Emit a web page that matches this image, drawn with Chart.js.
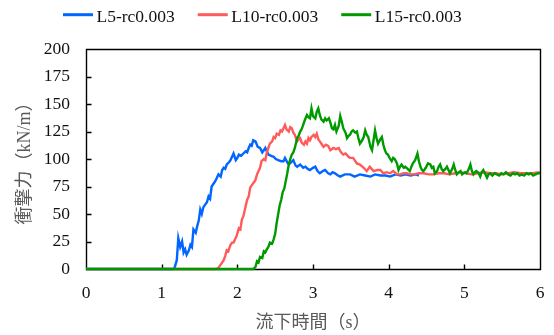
<!DOCTYPE html>
<html>
<head>
<meta charset="utf-8">
<title>衝撃力の時間変化</title>
<script src="https://cdn.jsdelivr.net/npm/chart.js@4/dist/chart.umd.min.js"></script>
<style>
  html, body { margin: 0; padding: 0; background: #ffffff; }
  #wrap { width: 554px; height: 335px; }
</style>
</head>
<body>
<div id="wrap"><canvas id="chart" width="554" height="335"></canvas></div>
<script>
// ---- series data: time (s) and impact force (kN/m) ----
const seriesLabels = ['L5-rc0.003', 'L10-rc0.003', 'L15-rc0.003'];

const l5Time = [
  0, 1.15, 1.17, 1.20, 1.22, 1.245, 1.27, 1.29, 1.31, 1.33,
  1.36, 1.38, 1.40, 1.42, 1.45, 1.47, 1.49, 1.51, 1.53, 1.55,
  1.58, 1.60, 1.62, 1.64, 1.66, 1.69, 1.71, 1.73, 1.75, 1.78,
  1.80, 1.82, 1.84, 1.86, 1.89, 1.91, 1.93, 1.95, 1.98, 2.00,
  2.02, 2.05, 2.08, 2.11, 2.13, 2.15, 2.17, 2.19, 2.21, 2.24,
  2.27, 2.30, 2.33, 2.37, 2.41, 2.44, 2.48, 2.51, 2.54, 2.58,
  2.61, 2.63, 2.66, 2.68, 2.71, 2.74, 2.77, 2.79, 2.83, 2.87,
  2.90, 2.93, 2.96, 3.00, 3.03, 3.06, 3.09, 3.13, 3.16, 3.20,
  3.23, 3.26, 3.29, 3.33, 3.36, 3.42, 3.49, 3.55, 3.62, 3.69,
  3.76, 3.82, 3.89, 3.96, 4.02, 4.09, 4.16, 4.22, 4.29, 4.36,
  4.40
];
const l5Force = [
  0, 0, 1, 8, 28, 20, 25, 15, 18, 13,
  17, 22, 20, 36, 33, 39, 44, 54, 50, 56,
  59, 61, 66, 64, 75, 78, 80, 83, 86, 84,
  90, 92, 91, 95, 97, 99, 102, 105, 99, 101,
  104, 103, 105, 107, 106, 110, 113, 112, 117, 116,
  111, 110, 106, 110, 104, 103, 102, 100, 99, 98,
  98, 101, 97, 95, 97, 99, 94, 93, 95, 92,
  93, 91, 90, 92, 93, 89, 87, 89, 90, 87,
  86, 88, 87, 85, 84, 86, 86, 84, 86, 85,
  84, 86, 85, 85, 84, 86, 85, 86, 85, 86,
  85
];

const l10Time = [
  0, 1.72, 1.75, 1.78, 1.82, 1.84, 1.86, 1.88, 1.91, 1.93,
  1.95, 1.97, 1.99, 2.02, 2.04, 2.06, 2.08, 2.10, 2.13, 2.15,
  2.17, 2.19, 2.21, 2.24, 2.26, 2.28, 2.30, 2.32, 2.35, 2.37,
  2.39, 2.41, 2.43, 2.46, 2.48, 2.50, 2.52, 2.55, 2.57, 2.59,
  2.61, 2.63, 2.65, 2.68, 2.70, 2.72, 2.74, 2.76, 2.79, 2.81,
  2.83, 2.85, 2.88, 2.90, 2.92, 2.94, 2.96, 2.98, 3.01, 3.03,
  3.05, 3.07, 3.09, 3.12, 3.14, 3.17, 3.20, 3.23, 3.27, 3.30,
  3.34, 3.37, 3.40, 3.43, 3.47, 3.49, 3.53, 3.58, 3.62, 3.67,
  3.71, 3.75, 3.80, 3.85, 3.89, 3.93, 3.97, 4.02, 4.06, 4.11,
  4.15, 4.20, 4.24, 4.29, 4.33, 4.40, 4.46, 4.53, 4.59, 4.66,
  4.73, 4.80, 4.88, 4.95, 5.02, 5.10, 5.18, 5.26, 5.34, 5.42,
  5.50, 5.58, 5.66, 5.74, 5.82, 5.90, 6.00
];
const l10Force = [
  0, 0, 1, 4, 8, 12, 17, 16, 22, 24,
  24, 27, 30, 37, 36, 45, 48, 54, 63, 66,
  74, 76, 78, 81, 86, 89, 92, 98, 100, 99,
  106, 110, 114, 116, 120, 119, 123, 122, 126, 125,
  128, 131, 127, 125, 129, 128, 124, 122, 116, 118,
  119, 115, 113, 116, 114, 119, 117, 120, 122, 120,
  123, 118, 116, 113, 111, 113, 112, 108, 110, 109,
  110, 106, 104, 105, 102, 101, 101, 96, 95, 92,
  89, 93, 89, 90, 90, 87, 88, 87, 89, 86,
  86, 87, 87, 86, 86, 87, 87, 86, 86, 87,
  87, 86, 87, 88, 87, 86, 87, 88, 87, 87,
  86, 87, 88, 87, 87, 87, 88
];

const l15Time = [
  0, 2.21, 2.24, 2.26, 2.28, 2.30, 2.33, 2.35, 2.37, 2.39,
  2.41, 2.43, 2.46, 2.48, 2.50, 2.52, 2.54, 2.56, 2.58, 2.60,
  2.62, 2.64, 2.66, 2.68, 2.70, 2.72, 2.74, 2.76, 2.78, 2.79,
  2.81, 2.83, 2.85, 2.87, 2.89, 2.92, 2.94, 2.96, 2.98, 3.00,
  3.03, 3.05, 3.07, 3.09, 3.11, 3.14, 3.16, 3.18, 3.21, 3.23,
  3.25, 3.27, 3.29, 3.31, 3.34, 3.36, 3.38, 3.40, 3.43, 3.45,
  3.47, 3.49, 3.51, 3.53, 3.56, 3.58, 3.60, 3.62, 3.65, 3.67,
  3.69, 3.71, 3.73, 3.76, 3.78, 3.80, 3.82, 3.84, 3.86, 3.89,
  3.91, 3.93, 3.95, 3.97, 3.99, 4.02, 4.04, 4.06, 4.08, 4.11,
  4.13, 4.15, 4.17, 4.20, 4.22, 4.25, 4.28, 4.30, 4.32, 4.35,
  4.38, 4.40, 4.42, 4.44, 4.46, 4.49, 4.52, 4.55, 4.57, 4.59,
  4.61, 4.64, 4.66, 4.68, 4.70, 4.72, 4.75, 4.77, 4.79, 4.81,
  4.84, 4.86, 4.88, 4.90, 4.93, 4.95, 4.97, 4.99, 5.01, 5.03,
  5.06, 5.08, 5.10, 5.12, 5.14, 5.16, 5.19, 5.21, 5.23, 5.25,
  5.28, 5.30, 5.32, 5.34, 5.37, 5.40, 5.43, 5.46, 5.49, 5.52,
  5.55, 5.58, 5.61, 5.64, 5.67, 5.70, 5.73, 5.76, 5.79, 5.82,
  5.85, 5.88, 5.91, 5.94, 5.97, 6.00
];
const l15Force = [
  0, 0, 2, 7, 6, 11, 10, 16, 15, 18,
  20, 24, 23, 27, 32, 42, 50, 58, 63, 70,
  73, 80, 87, 95, 100, 104, 106, 110, 116, 119,
  121, 125, 127, 131, 135, 140, 138, 137, 146, 139,
  137, 143, 146, 140, 136, 134, 137, 135, 137, 133,
  128, 127, 131, 125, 130, 139, 134, 128, 124, 119,
  121, 122, 125, 126, 124, 125, 119, 114, 117, 120,
  126, 122, 120, 111, 108, 117, 126, 119, 114, 118,
  120, 113, 108, 105, 104, 100, 98, 101, 100, 96,
  90, 93, 95, 92, 93, 91, 89, 93, 96, 99,
  105, 98, 93, 90, 89, 92, 96, 95, 92, 93,
  87, 89, 93, 95, 91, 89, 91, 93, 90, 87,
  91, 95, 90, 86, 88, 89, 86, 87, 88, 87,
  91, 95, 89, 86, 88, 89, 87, 84, 88, 90,
  86, 83, 86, 87, 85, 87, 86, 85, 87, 86,
  88, 86, 85, 87, 86, 87, 85, 86, 85, 87,
  86, 87, 85, 86, 87, 87
];

// ---- axis ticks and titles ----
const xTicks = [0, 1, 2, 3, 4, 5, 6];
const yTicks = [0, 25, 50, 75, 100, 125, 150, 175, 200];
const xTitle = '流下時間（s）';
const yTitle = '衝撃力（kN/m）';

const seriesColors = ['#0066ff', '#ff5b5b', '#009a00'];
const serifFamily = '"Liberation Serif", "Times New Roman", "Noto Sans CJK JP", serif';

function toPoints(times, values) {
  return times.map((t, i) => ({ x: t, y: values[i] }));
}

// Plot frame with inward tick marks, drawn beneath the curves
const framePlugin = {
  id: 'frame',
  beforeDatasetsDraw(chart) {
    const { ctx, chartArea: a, scales } = chart;
    const l = Math.round(a.left) + 0.5;
    const r = Math.round(a.right) + 0.5;
    const t = Math.round(a.top) + 0.5;
    const b = Math.round(a.bottom) + 0.5;
    ctx.save();
    ctx.strokeStyle = '#000000';
    ctx.lineWidth = 1.4;
    ctx.beginPath();
    ctx.moveTo(l, t);
    ctx.lineTo(r, t);
    ctx.lineTo(r, b);
    ctx.lineTo(l, b);
    ctx.closePath();
    scales.y.ticks.forEach(tk => {
      const py = Math.round(scales.y.getPixelForValue(tk.value)) + 0.5;
      ctx.moveTo(l, py);
      ctx.lineTo(l + 5, py);
    });
    scales.x.ticks.forEach(tk => {
      const px = Math.round(scales.x.getPixelForValue(tk.value)) + 0.5;
      ctx.moveTo(px, b);
      ctx.lineTo(px, b - 5);
    });
    ctx.stroke();
    ctx.restore();
  }
};

// Legend row across the top
const legendPlugin = {
  id: 'topLegend',
  afterDraw(chart) {
    const ctx = chart.ctx;
    ctx.save();
    ctx.font = '17.5px ' + serifFamily;
    ctx.textBaseline = 'alphabetic';
    ctx.textAlign = 'left';
    let x = 63;
    const lineY = 14.7;
    const textY = 21.5;
    chart.data.datasets.forEach(ds => {
      ctx.strokeStyle = ds.borderColor;
      ctx.lineWidth = 3;
      ctx.beginPath();
      ctx.moveTo(x, lineY);
      ctx.lineTo(x + 30, lineY);
      ctx.stroke();
      x += 33.5;
      ctx.fillStyle = '#111111';
      ctx.fillText(ds.label, x, textY);
      x += ctx.measureText(ds.label).width + 23;
    });
    ctx.restore();
  }
};

const seriesData = [
  toPoints(l5Time, l5Force),
  toPoints(l10Time, l10Force),
  toPoints(l15Time, l15Force)
];

new Chart(document.getElementById('chart'), {
  type: 'line',
  data: {
    datasets: seriesLabels.map((label, i) => ({
      label: label,
      data: seriesData[i],
      borderColor: seriesColors[i],
      backgroundColor: seriesColors[i],
      borderWidth: 2.4,
      pointRadius: 0,
      tension: 0,
      fill: false,
      clip: 4,
      order: 2 - i
    }))
  },
  options: {
    responsive: false,
    animation: false,
    events: [],
    layout: { padding: { top: 49, right: 14, bottom: 0, left: 0 } },
    plugins: { legend: { display: false }, tooltip: { enabled: false } },
    scales: {
      x: {
        type: 'linear',
        min: 0,
        max: 6,
        afterBuildTicks(scale) { scale.ticks = xTicks.map(v => ({ value: v })); },
        afterFit(scale) {
          scale.height = 66;
          scale.paddingLeft = 0;
          scale.paddingRight = 0;
        },
        grid: { display: false, drawTicks: false, tickLength: 0 },
        border: { display: false },
        ticks: {
          autoSkip: false,
          maxRotation: 0,
          padding: 14,
          color: '#111111',
          font: { family: serifFamily, size: 17.5 }
        },
        title: {
          display: true,
          text: xTitle,
          color: '#595959',
          font: { family: serifFamily, size: 18 },
          padding: { top: 0, bottom: 1 }
        }
      },
      y: {
        type: 'linear',
        min: 0,
        max: 200,
        afterBuildTicks(scale) { scale.ticks = yTicks.map(v => ({ value: v })); },
        afterFit(scale) {
          scale.width = 86;
          scale.paddingTop = 0;
          scale.paddingBottom = 0;
        },
        grid: { display: false, drawTicks: false, tickLength: 0 },
        border: { display: false },
        ticks: {
          autoSkip: false,
          padding: 16,
          color: '#111111',
          font: { family: serifFamily, size: 17.5 }
        },
        title: {
          display: true,
          text: yTitle,
          color: '#595959',
          font: { family: serifFamily, size: 18 },
          padding: { top: 14, bottom: 0 }
        }
      }
    }
  },
  plugins: [framePlugin, legendPlugin]
});
</script>
</body>
</html>
